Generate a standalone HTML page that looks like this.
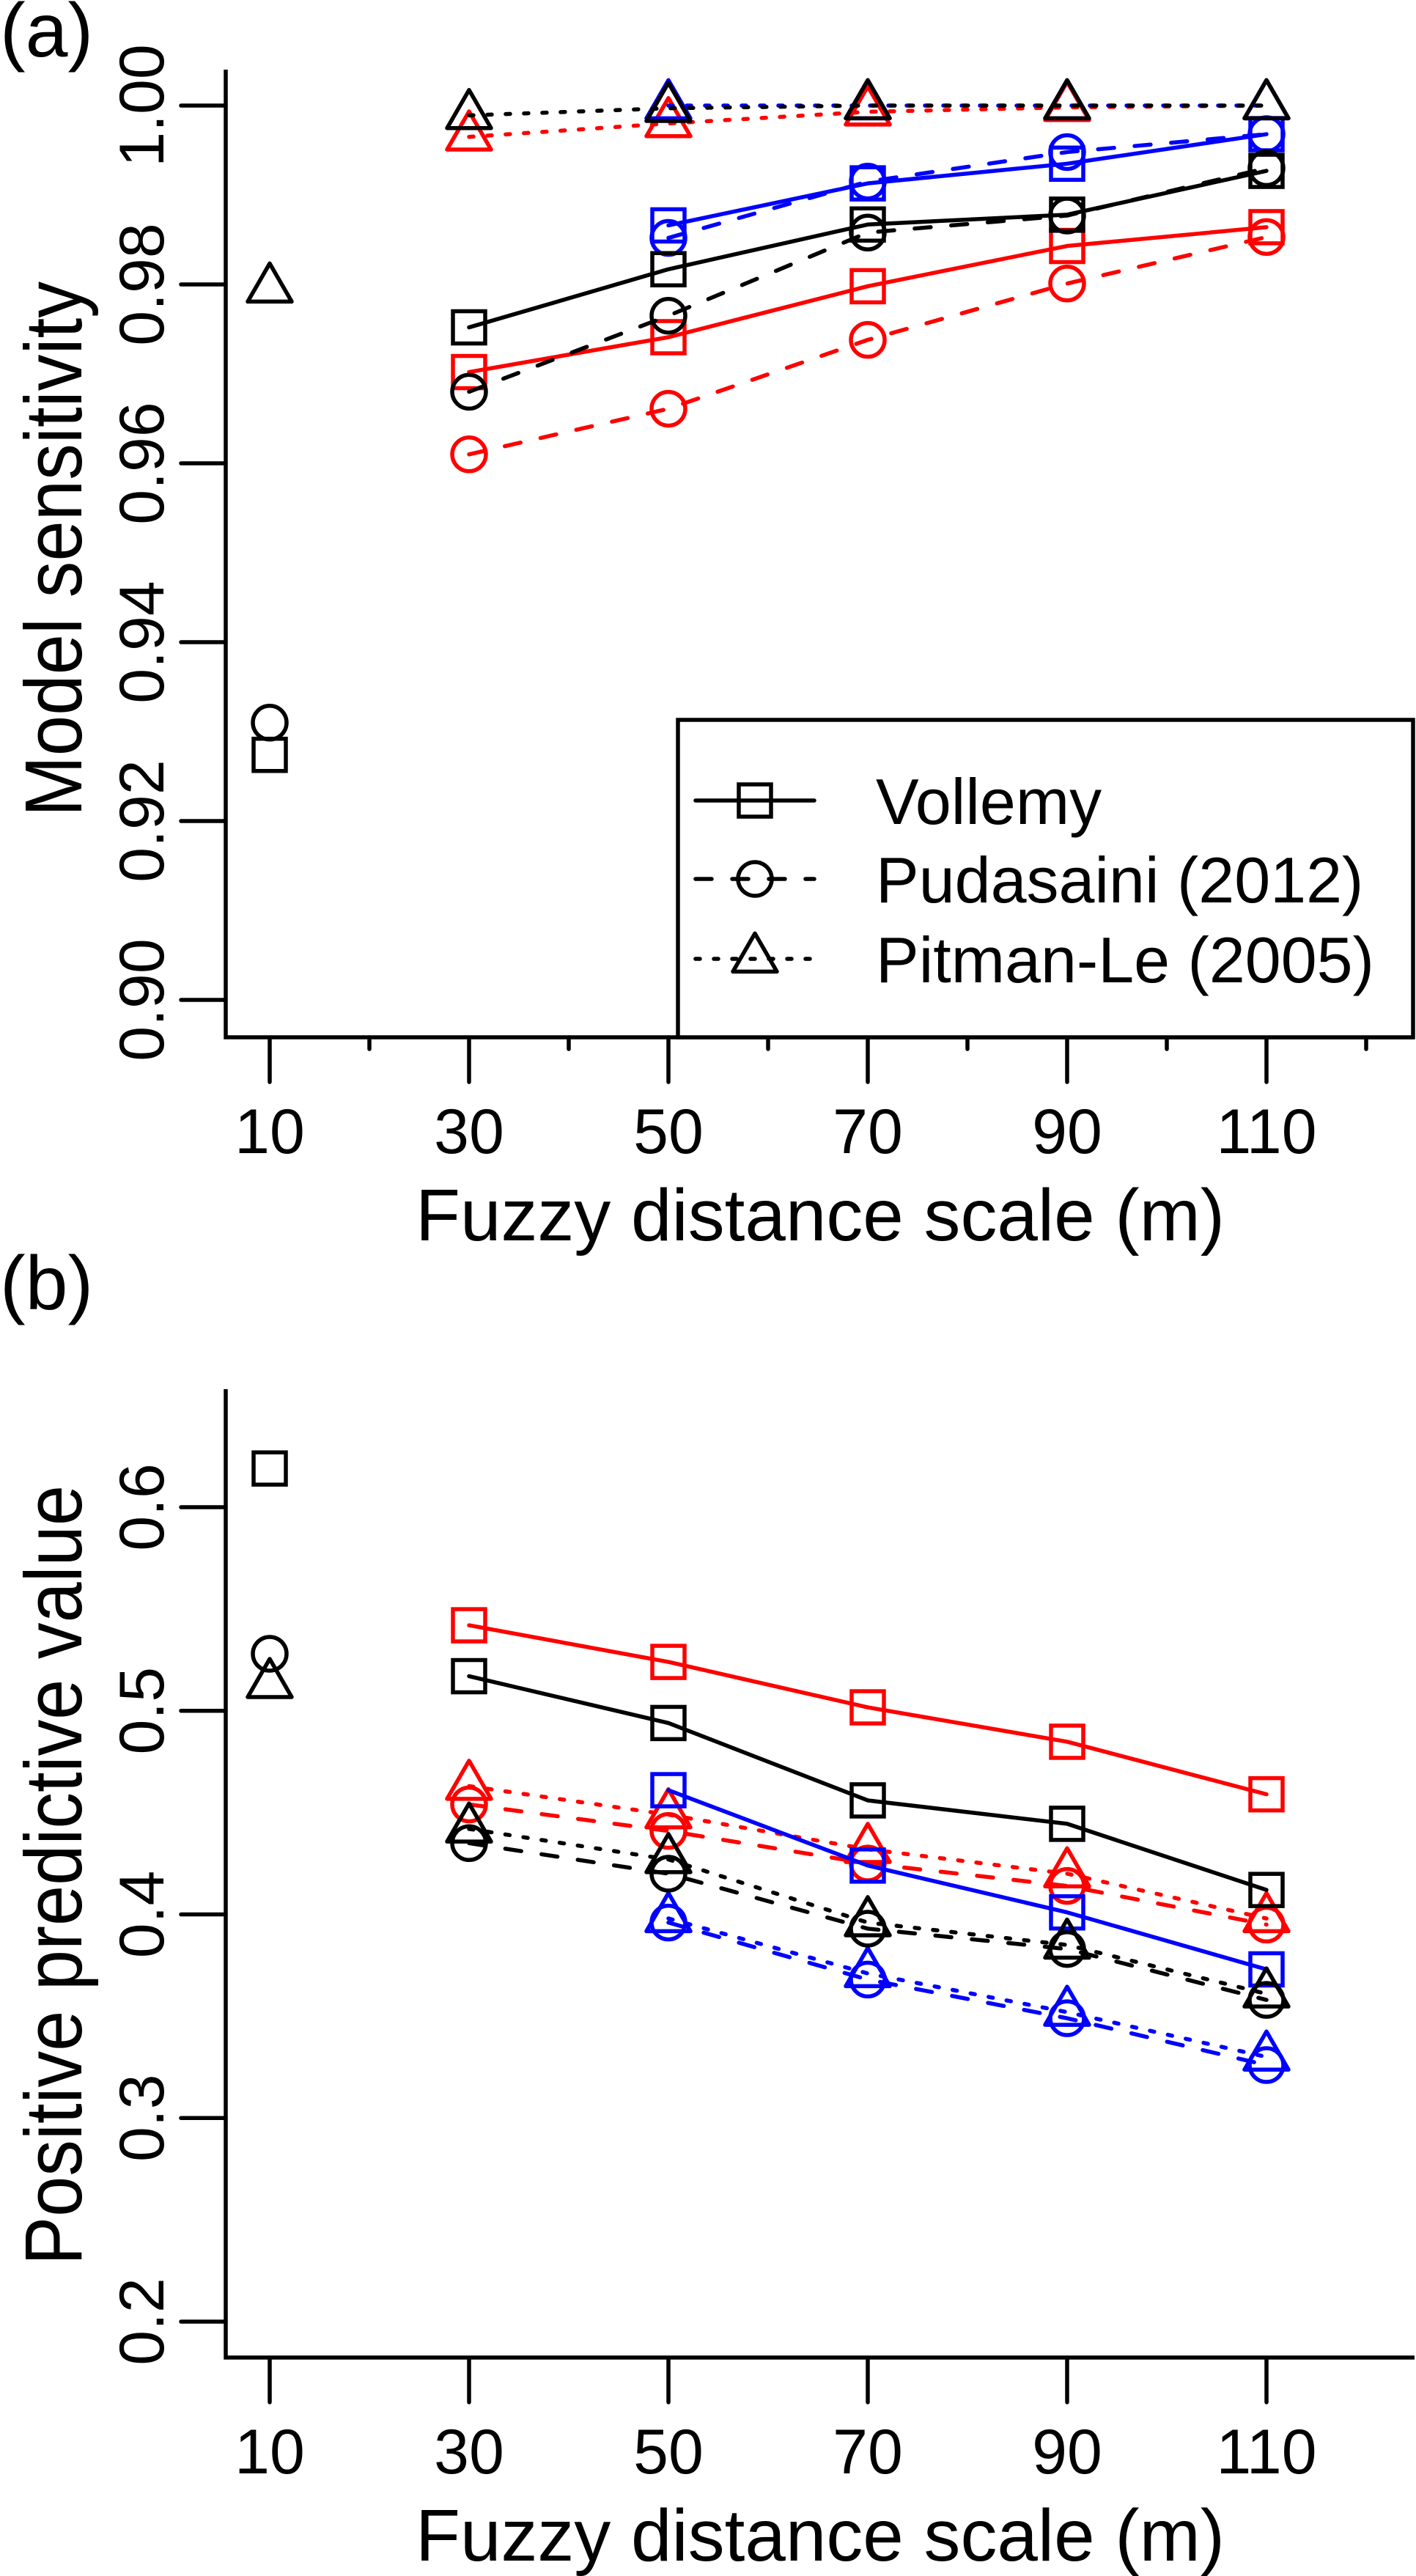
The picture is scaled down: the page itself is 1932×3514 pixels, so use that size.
<!DOCTYPE html>
<html><head><meta charset="utf-8">
<style>
html,body{margin:0;padding:0;background:#fff;}
svg{display:block;font-family:"Liberation Sans",sans-serif;}
</style></head>
<body>
<svg id="fig" width="1932" height="3514" viewBox="0 0 1932 3514" xmlns="http://www.w3.org/2000/svg">
<rect x="0" y="0" width="1932" height="3514" fill="#fff"/>
<text x="0" y="77" font-size="104">(a)</text>
<text x="0" y="1786" font-size="104">(b)</text>
</svg>
<script>
// ---- shared x data ----
const xCats = [10, 30, 50, 70, 90, 110];
const xTickLabels = ['10','30','50','70','90','110'];
const xMinor = [20, 40, 60, 80, 100, 120];

// ---- panel (a) data: model sensitivity ----
const aTicks = [0.90, 0.92, 0.94, 0.96, 0.98, 1.00];
const aTickLabels = ['0.90','0.92','0.94','0.96','0.98','1.00'];
const aBlackSquareX = [30, 50, 70, 90, 110];
const aBlackSquare = [0.9752, 0.9817, 0.9867, 0.9878, 0.9927];
const aBlackCircle = [0.9680, 0.9765, 0.9858, 0.9877, 0.9930];
const aBlackTriangle = [0.9989, 0.9997, 1.0, 1.0, 1.0];
const aRedSquare = [0.9702, 0.9741, 0.9798, 0.9843, 0.9864];
const aRedCircle = [0.9610, 0.9661, 0.9738, 0.9801, 0.9853];
const aRedTriangle = [0.9965, 0.9980, 0.9993, 0.9998, 1.0];
const aBlueX = [50, 70, 90, 110];
const aBlueSquare = [0.9866, 0.9913, 0.9935, 0.9968];
const aBlueCircle = [0.9852, 0.9915, 0.9948, 0.9968];
const aBlueTriangle = [1.0, 1.0, 1.0, 1.0];
const aSingleSquare = 0.9274;
const aSingleCircle = 0.9310;
const aSingleTriangle = 0.9795;

// ---- panel (b) data: positive predictive value ----
const bTicks = [0.2, 0.3, 0.4, 0.5, 0.6];
const bTickLabels = ['0.2','0.3','0.4','0.5','0.6'];
const bBlackSquare = [0.517, 0.494, 0.456, 0.4445, 0.412];
const bBlackCircle = [0.435, 0.420, 0.393, 0.383, 0.358];
const bBlackTriangle = [0.442, 0.427, 0.396, 0.385, 0.361];
const bRedSquare = [0.542, 0.524, 0.5017, 0.4848, 0.459];
const bRedCircle = [0.454, 0.441, 0.425, 0.414, 0.395];
const bRedTriangle = [0.463, 0.449, 0.432, 0.420, 0.398];
const bBlueSquare = [0.461, 0.424, 0.401, 0.373];
const bBlueCircle = [0.396, 0.368, 0.349, 0.326];
const bBlueTriangle = [0.398, 0.371, 0.352, 0.330];
const bSingleSquare = 0.619;
const bSingleCircle = 0.528;
const bSingleTriangle = 0.513;

const NS = 'http://www.w3.org/2000/svg';
const svg = document.getElementById('fig');
const LW = 5.5;
function mk(tag, attrs, parent) {
  const e = document.createElementNS(NS, tag);
  for (const k in attrs) e.setAttribute(k, attrs[k]);
  (parent || svg).appendChild(e);
  return e;
}
function xScale(v) { return 368 + (v - 10) * 13.6; }
const DASH = {solid: null, dashed: '22 28', dotted: '6 19'};

function marker(g, shape, cx, cy, color) {
  let e;
  if (shape === 'square') {
    e = mk('rect', {x: cx - 22, y: cy - 22, width: 44, height: 44, fill: 'none', stroke: color, 'stroke-width': LW}, g);
  } else if (shape === 'circle') {
    e = mk('circle', {cx: cx, cy: cy, r: 23, fill: 'none', stroke: color, 'stroke-width': LW}, g);
  } else {
    const h = 52, w = 60;
    e = mk('polygon', {points: `${cx},${cy - h * 2 / 3} ${cx - w / 2},${cy + h / 3} ${cx + w / 2},${cy + h / 3}`, fill: 'none', stroke: color, 'stroke-width': LW, 'stroke-linejoin': 'round'}, g);
  }
  return e;
}

function series(name, xs, ys, yScale, shape, style, color) {
  const g = mk('g', {});
  
  
  const pts = xs.map((x, i) => `${xScale(x)},${yScale(ys[i])}`).join(' ');
  const pl = mk('polyline', {points: pts, fill: 'none', stroke: color, 'stroke-width': LW, 'stroke-linejoin': 'round', 'stroke-linecap': 'round'}, g);
  if (DASH[style]) pl.setAttribute('stroke-dasharray', DASH[style]);
  
  
  xs.forEach((x, i) => {
    const m = marker(g, shape, xScale(x), yScale(ys[i]), color);
    
    
  });
}

function single(name, v, yScale, shape) {
  const m = marker(svg, shape, xScale(10), yScale(v), '#000');
  
  
}

function axes(prefix, top, bottom, yScale, ticks, labels, minor) {
  const a = mk('path', {d: `M308,${top} L308,${bottom} L1930,${bottom}`, fill: 'none', stroke: '#000', 'stroke-width': LW}, svg);
  
  
  ticks.forEach((t, i) => {
    const y = yScale(t);
    const tk = mk('line', {x1: 308, y1: y, x2: 247, y2: y, stroke: '#000', 'stroke-width': LW, 'stroke-linecap': 'round'});
    
    
    const tx = mk('text', {x: 0, y: 0, transform: `translate(223,${y}) rotate(-90)`, 'text-anchor': 'middle', 'font-size': 86});
    tx.textContent = labels[i];
    
    
  });
  xCats.forEach((v, i) => {
    const x = xScale(v);
    const tk = mk('line', {x1: x, y1: bottom, x2: x, y2: bottom + 61, stroke: '#000', 'stroke-width': LW, 'stroke-linecap': 'round'});
    
    
    const tx = mk('text', {x: x, y: bottom + 158, 'text-anchor': 'middle', 'font-size': 86});
    tx.textContent = xTickLabels[i];
    
    
  });
  if (minor) {
    xMinor.forEach(v => {
      const x = xScale(v);
      const tk = mk('line', {x1: x, y1: bottom, x2: x, y2: bottom + 16, stroke: '#000', 'stroke-width': LW, 'stroke-linecap': 'round'});
      
      
    });
  }
  const xt = mk('text', {x: 567, y: bottom + 277, 'font-size': 100, textLength: 1104, lengthAdjust: 'spacingAndGlyphs'});
  xt.textContent = 'Fuzzy distance scale (m)';
  
  
}

// ---- Panel (a) ----
const yA = v => 144 + (1.0 - v) / 0.02 * 244;
axes('panel-a', 95, 1415, yA, aTicks, aTickLabels, true);
const ytA = mk('text', {x: 0, y: 0, transform: 'translate(111,1114) rotate(-90)', 'font-size': 110, textLength: 730, lengthAdjust: 'spacingAndGlyphs'});
ytA.textContent = 'Model sensitivity';



series('a-red-vollemy', aBlackSquareX, aRedSquare, yA, 'square', 'solid', '#ff0000');
series('a-red-pudasaini', aBlackSquareX, aRedCircle, yA, 'circle', 'dashed', '#ff0000');
series('a-red-pitman', aBlackSquareX, aRedTriangle, yA, 'triangle', 'dotted', '#ff0000');
series('a-blue-vollemy', aBlueX, aBlueSquare, yA, 'square', 'solid', '#0000ff');
series('a-blue-pudasaini', aBlueX, aBlueCircle, yA, 'circle', 'dashed', '#0000ff');
series('a-blue-pitman', aBlueX, aBlueTriangle, yA, 'triangle', 'dotted', '#0000ff');
series('a-black-vollemy', aBlackSquareX, aBlackSquare, yA, 'square', 'solid', '#000');
series('a-black-pudasaini', aBlackSquareX, aBlackCircle, yA, 'circle', 'dashed', '#000');
series('a-black-pitman', aBlackSquareX, aBlackTriangle, yA, 'triangle', 'dotted', '#000');
single('a-single-square', aSingleSquare, yA, 'square');
single('a-single-circle', aSingleCircle, yA, 'circle');
single('a-single-triangle', aSingleTriangle, yA, 'triangle');

// legend
const lg = mk('g', {});


mk('rect', {x: 925, y: 982, width: 1003, height: 433, fill: '#fff', stroke: '#000', 'stroke-width': LW}, lg);
const legNames = ['Vollemy', 'Pudasaini (2012)', 'Pitman-Le (2005)'];
const legShapes = ['square', 'circle', 'triangle'];
const legStyles = ['solid', 'dashed', 'dotted'];
const legY = [1092, 1199, 1308];
legNames.forEach((n, i) => {
  const ln = mk('line', {x1: 949, y1: legY[i], x2: 1111, y2: legY[i], stroke: '#000', 'stroke-width': LW, 'stroke-linecap': 'round'}, lg);
  if (DASH[legStyles[i]]) ln.setAttribute('stroke-dasharray', DASH[legStyles[i]]);
  
  
  const m = marker(lg, legShapes[i], 1030, legY[i], '#000');
  
  
  const t = mk('text', {x: 1195, y: legY[i] + 32, 'font-size': 88}, lg);
  t.textContent = n;
  
  
});

// ---- Panel (b) ----
const yB = v => 2056 + (0.6 - v) / 0.1 * 277.75;
axes('panel-b', 1895, 3216, yB, bTicks, bTickLabels, false);
const ytB = mk('text', {x: 0, y: 0, transform: 'translate(111,3090) rotate(-90)', 'font-size': 110, textLength: 1064, lengthAdjust: 'spacingAndGlyphs'});
ytB.textContent = 'Positive predictive value';



series('b-red-vollemy', aBlackSquareX, bRedSquare, yB, 'square', 'solid', '#ff0000');
series('b-red-pudasaini', aBlackSquareX, bRedCircle, yB, 'circle', 'dashed', '#ff0000');
series('b-red-pitman', aBlackSquareX, bRedTriangle, yB, 'triangle', 'dotted', '#ff0000');
series('b-blue-vollemy', aBlueX, bBlueSquare, yB, 'square', 'solid', '#0000ff');
series('b-blue-pudasaini', aBlueX, bBlueCircle, yB, 'circle', 'dashed', '#0000ff');
series('b-blue-pitman', aBlueX, bBlueTriangle, yB, 'triangle', 'dotted', '#0000ff');
series('b-black-vollemy', aBlackSquareX, bBlackSquare, yB, 'square', 'solid', '#000');
series('b-black-pudasaini', aBlackSquareX, bBlackCircle, yB, 'circle', 'dashed', '#000');
series('b-black-pitman', aBlackSquareX, bBlackTriangle, yB, 'triangle', 'dotted', '#000');
single('b-single-square', bSingleSquare, yB, 'square');
single('b-single-circle', bSingleCircle, yB, 'circle');
single('b-single-triangle', bSingleTriangle, yB, 'triangle');
</script>
</body></html>
